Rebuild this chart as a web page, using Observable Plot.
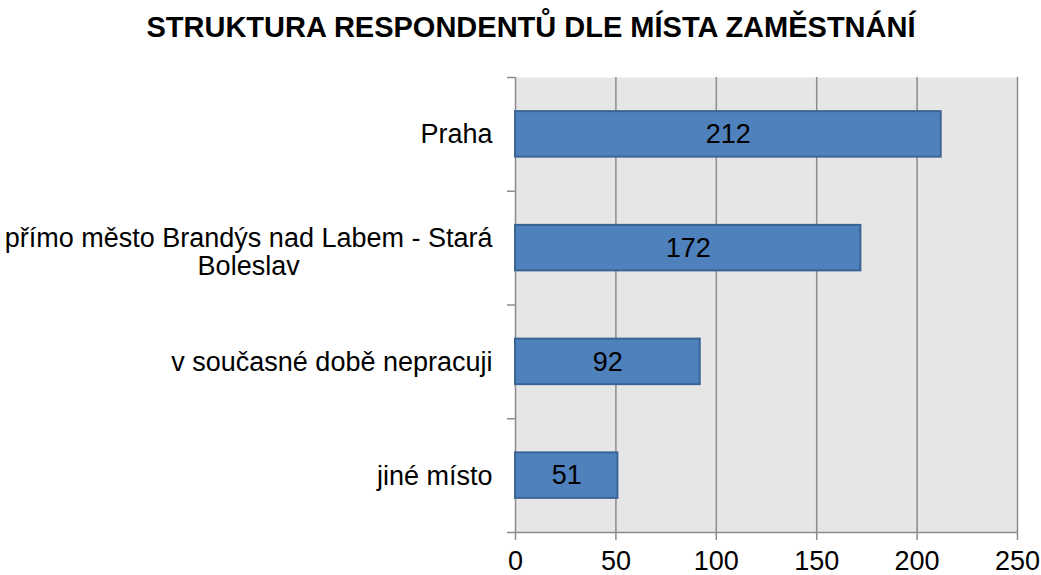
<!DOCTYPE html>
<html>
<head>
<meta charset="utf-8">
<script src="https://cdn.jsdelivr.net/npm/d3@7"></script>
<script src="https://cdn.jsdelivr.net/npm/@observablehq/plot@0.6"></script>
<style>
  body { margin: 0; background: #fff; font-family: Arial, "Liberation Sans", sans-serif; }
  #title { width: 1041px; height: 60px; box-sizing: border-box; padding-left: 21px; padding-top: 11px;
           text-align: center; font-weight: bold; font-size: 29px; line-height: 32px; color: #000; }
  #chart svg g[aria-label^="y-axis"] line, #chart svg g[aria-label^="y-axis"] path,
  #chart svg g[aria-label^="x-axis"] line, #chart svg g[aria-label^="x-axis"] path { stroke: #8c8c8c; stroke-width: 1.5; }
</style>
</head>
<body>
<div id="title">STRUKTURA RESPONDENTŮ DLE MÍSTA ZAMĚSTNÁNÍ</div>
<div id="chart"></div>
<script>
const categories = ["Praha", "přímo město Brandýs nad Labem - Stará Boleslav", "v současné době nepracuji", "jiné místo"];
const values = [212, 172, 92, 51];
const xTicks = [0, 50, 100, 150, 200, 250];

const rows = categories.map((c, i) => ({category: c, value: values[i], pos: i}));
const FONT = 'Arial, "Liberation Sans", sans-serif';
const FS = 27;
const ctx = document.createElement("canvas").getContext("2d");
ctx.font = `${FS}px ${FONT}`;
const maxW = 495;
function wrap(s) {
  const words = s.split(" ");
  const lines = [];
  let cur = "";
  for (const w of words) {
    const t = cur ? cur + " " + w : w;
    if (ctx.measureText(t).width > maxW && cur) { lines.push(cur); cur = w; } else cur = t;
  }
  lines.push(cur);
  return lines;
}
const labelGap = 23;
const labelMarks = rows.map(r => {
  const lines = wrap(r.category);
  const w = Math.max(...lines.map(l => ctx.measureText(l).width));
  const multi = lines.length > 1;
  return Plot.text([r], {
    y: d => d.pos + 0.5,
    frameAnchor: "left",
    text: () => lines.join("\n"),
    textAnchor: multi ? "middle" : "end",
    dx: multi ? -(labelGap + w / 2) : -labelGap,
    dy: multi ? 4 : 0,
    lineHeight: 1.05,
    fontSize: FS,
    fill: "#000"
  });
});

const chart = Plot.plot({
  width: 1041,
  height: 515,
  marginTop: 17,
  marginBottom: 43,
  marginLeft: 515,
  marginRight: 24,
  style: {fontFamily: FONT, fontSize: FS + "px", background: "#fff", color: "#000", overflow: "visible"},
  x: {domain: [0, 250], ticks: xTicks, tickSize: 8, tickPadding: 10, label: null, tickFormat: d => String(d)},
  y: {domain: [0, categories.length], reverse: true, ticks: d3.range(categories.length + 1), tickSize: 8, tickFormat: () => "", label: null},
  marks: [
    Plot.frame({fill: "#e6e6e6", stroke: null}),
    Plot.ruleX(xTicks, {stroke: "#8c8c8c", strokeWidth: 1.5}),
    Plot.ruleY([categories.length], {stroke: "#8c8c8c", strokeWidth: 1.5}),
    Plot.rectX(rows, {x: "value", y1: d => d.pos + 0.3, y2: d => d.pos + 0.7, fill: "#4f81bd", stroke: "#3a6493", strokeWidth: 2}),
    Plot.text(rows, {x: d => d.value / 2, y: d => d.pos + 0.5, text: d => String(d.value), fontSize: FS, fill: "#000"}),
    ...labelMarks
  ]
});
document.getElementById("chart").appendChild(chart);
</script>
</body>
</html>
